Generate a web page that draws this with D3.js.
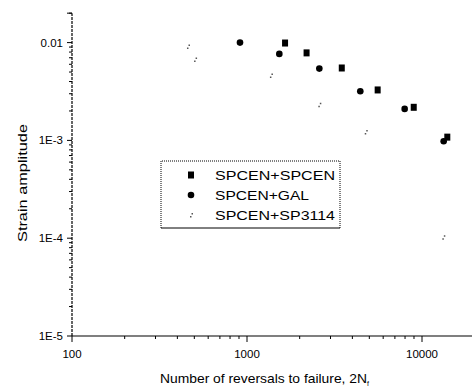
<!DOCTYPE html>
<html>
<head>
<meta charset="utf-8">
<script src="https://cdn.jsdelivr.net/npm/d3@7"></script>
<style>
  body { margin: 0; background: #fff; }
  text { font-family: "Liberation Sans", Arial, sans-serif; fill: #000; }
</style>
</head>
<body>
<div id="chart"></div>
<script>
// series: [reversals to failure, strain amplitude]
const spcenSpcen = [[1650, 0.0099], [2190, 0.00785], [3480, 0.0055], [5580, 0.00328], [8970, 0.00218], [13950, 0.00108]];
const spcenGal = [[912, 0.01], [1530, 0.00766], [2590, 0.00542], [4440, 0.00318], [7960, 0.0021], [13300, 0.00098]];
const spcenSp3114 = [[460, 0.0091], [505, 0.0067], [1370, 0.0046], [2590, 0.00232], [4770, 0.00122], [13240, 0.000102]];
const seriesNames = ['SPCEN+SPCEN', 'SPCEN+GAL', 'SPCEN+SP3114'];
const xTicks = [100, 1000, 10000];
const xTickLabels = ['100', '1000', '10000'];
const yTicks = [0.01, 0.001, 0.0001, 0.00001];
const yTickLabels = ['0.01', '1E-3', '1E-4', '1E-5'];

const width = 472, height = 390;

const svg = d3.select('#chart').append('svg')
  .attr('width', width)
  .attr('height', height);

const x = d3.scaleLog().domain([100, 20000]).range([72, 72 + 175 * Math.log10(200)]);
const y = d3.scaleLog().domain([1e-5, 0.02]).range([336, 336 - 97.8 * Math.log10(2000)]);

// minor ticks for both axes
const xMinor = [];
for (let d = 100; d <= 10000; d *= 10) {
  for (let k = 2; k <= 9; k++) if (d * k <= 20000) xMinor.push(d * k);
}
const yMinor = [];
for (let d = 1e-5; d <= 0.01; d *= 10) {
  for (let k = 2; k <= 9; k++) if (d * k <= 0.02) yMinor.push(d * k);
}

// x axis
const gx = svg.append('g').attr('transform', `translate(0,${y(1e-5)})`);
gx.append('line')
  .attr('x1', x(100)).attr('x2', width)
  .attr('stroke', '#000').attr('stroke-width', 1.2);
gx.selectAll('.minor').data(xMinor).join('line')
  .attr('x1', d => x(d)).attr('x2', d => x(d))
  .attr('y1', 0).attr('y2', 3)
  .attr('stroke', '#000');
gx.selectAll('.major').data(xTicks).join('line')
  .attr('x1', d => x(d)).attr('x2', d => x(d))
  .attr('y1', 0).attr('y2', 6)
  .attr('stroke', '#000');
gx.selectAll('text').data(xTicks).join('text')
  .attr('x', d => x(d))
  .attr('y', 22)
  .attr('text-anchor', 'middle')
  .style('font-size', '11.5px')
  .text((d, i) => xTickLabels[i]);

// y axis
const gy = svg.append('g').attr('transform', `translate(${x(100)},0)`);
gy.append('line')
  .attr('y1', y(1e-5)).attr('y2', y(0.02))
  .attr('stroke', '#000').attr('stroke-width', 1.2)
  .attr('stroke-dasharray', '3,1');
gy.selectAll('.minor').data(yMinor).join('line')
  .attr('y1', d => y(d)).attr('y2', d => y(d))
  .attr('x1', 0).attr('x2', -3)
  .attr('stroke', '#000');
gy.selectAll('.major').data(yTicks.concat([0.02])).join('line')
  .attr('y1', d => y(d)).attr('y2', d => y(d))
  .attr('x1', 0).attr('x2', -5)
  .attr('stroke', '#000');
gy.selectAll('text').data(yTicks).join('text')
  .attr('x', -9)
  .attr('y', d => y(d) + 4)
  .attr('text-anchor', 'end')
  .style('font-size', '11.5px')
  .text((d, i) => yTickLabels[i]);

// axis titles
svg.append('text')
  .attr('transform', 'translate(27,183) rotate(-90)')
  .attr('text-anchor', 'middle')
  .attr('textLength', 118)
  .attr('lengthAdjust', 'spacingAndGlyphs')
  .style('font-size', '13px')
  .text('Strain amplitude');

const xt = svg.append('text')
  .attr('x', 160)
  .attr('y', 383)
  .style('font-size', '13px');
xt.append('tspan')
  .attr('textLength', 207)
  .attr('lengthAdjust', 'spacingAndGlyphs')
  .text('Number of reversals to failure, 2N');
xt.append('tspan').attr('dy', 3).style('font-size', '7px').text('f');

// markers
const square = (g, cx, cy) => g.append('rect')
  .attr('x', cx - 3).attr('y', cy - 3.5)
  .attr('width', 6).attr('height', 7)
  .attr('fill', '#000');
const dot = (g, cx, cy) => g.append('circle')
  .attr('cx', cx).attr('cy', cy).attr('r', 3.3)
  .attr('fill', '#000');
const tiny = (g, cx, cy) => g.append('path')
  .attr('d', `M${cx - 1},${cy + 1}h1.5v1.5h-1.5z M${cx + 0.5},${cy - 2}h1.5v1.5h-1.5z`)
  .attr('fill', '#555');

const marks = svg.append('g');
spcenSpcen.forEach(d => square(marks, x(d[0]), y(d[1])));
spcenGal.forEach(d => dot(marks, x(d[0]), y(d[1])));
spcenSp3114.forEach(d => tiny(marks, x(d[0]), y(d[1])));

// legend
const lg = svg.append('g');
const lx0 = 161, ly0 = 161, lx1 = 340, ly1 = 228;
lg.append('path')
  .attr('d', `M${lx0},${ly1} V${ly0} H${lx1} V${ly1}`)
  .attr('fill', 'none').attr('stroke', '#000')
  .attr('stroke-dasharray', '1,1');
lg.append('line')
  .attr('x1', lx0).attr('x2', lx1).attr('y1', ly1).attr('y2', ly1)
  .attr('stroke', '#000');
const markFns = [square, dot, tiny];
seriesNames.forEach((name, i) => {
  const cy = 175 + i * 20;
  markFns[i](lg, 191, cy);
  lg.append('text')
    .attr('x', 215)
    .attr('y', cy + 4.5)
    .attr('textLength', [120, 94, 120][i])
    .attr('lengthAdjust', 'spacingAndGlyphs')
    .style('font-size', '13px')
    .text(name);
});
</script>
</body>
</html>
